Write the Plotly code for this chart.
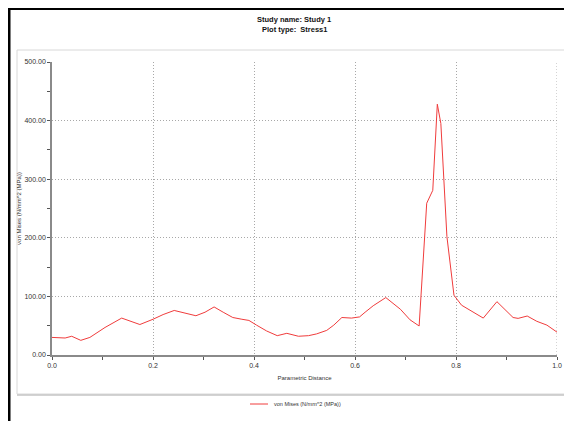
import plotly.graph_objects as go

# Parametric distance along the path
dist = [0, 0.0125, 0.026, 0.039, 0.057, 0.075, 0.105, 0.138, 0.174, 0.2,
        0.22, 0.242, 0.263, 0.285, 0.303, 0.321, 0.339, 0.358, 0.376, 0.39,
        0.405, 0.425, 0.446, 0.465, 0.488, 0.508, 0.524, 0.544, 0.558, 0.574,
        0.593, 0.609, 0.62, 0.636, 0.661, 0.676, 0.69, 0.709, 0.727, 0.742,
        0.754, 0.763, 0.770, 0.782, 0.796, 0.811, 0.854, 0.881, 0.913, 0.923,
        0.941, 0.96, 0.98, 1.0]
# von Mises stress (MPa)
von_mises = [30, 29, 29, 32, 25, 30, 47, 63, 52, 61,
             69, 76, 72, 67, 73, 82, 73, 64, 61, 59,
             51, 41, 33, 37, 32, 33, 36, 42, 51, 64,
             63, 65, 73, 84, 98, 87, 78, 60, 49.5, 259,
             281, 428, 395, 202, 102, 85, 63, 91, 64, 62.5,
             66.5, 57.5, 51, 39]

x_ticks = [0.0, 0.2, 0.4, 0.6, 0.8, 1.0]
x_tick_labels = ["0.0", "0.2", "0.4", "0.6", "0.8", "1.0"]
y_ticks = [0, 100, 200, 300, 400, 500]
y_tick_labels = ["0.00", "100.00", "200.00", "300.00", "400.00", "500.00"]
series_name = "von Mises (N/mm^2 (MPa))"

OFF = 8  # page body margin offset
W, H = 572 - OFF, 421 - OFF
# plot area in page pixels
L, R, T, B = 52, 557, 62, 355


def px(p):
    return (p - L) / (R - L)


def py(p):
    return (B - p) / (B - T)


FONT = "Liberation Sans, Arial, sans-serif"
GRID = "#a8a8a8"
RED = "#f03c3c"

fig = go.Figure()
fig.add_trace(go.Scatter(
    x=dist, y=von_mises, mode="lines",
    line=dict(color=RED, width=1),
    name=series_name, showlegend=False,
))

fig.update_layout(
    width=W, height=H, autosize=False,
    margin=dict(l=L - OFF, r=W - (R - OFF), t=T - OFF, b=H - (B - OFF), autoexpand=False),
    paper_bgcolor="white", plot_bgcolor="white",
    font=dict(family=FONT, size=7, color="#333"),
    showlegend=False,
    xaxis=dict(range=[0, 1], tickvals=x_ticks, ticktext=x_tick_labels,
               automargin=False,
               showgrid=True, gridcolor=GRID, griddash="1px,2px", gridwidth=1,
               showline=True, linecolor="#8a8a8a", linewidth=1.5,
               ticks="outside", ticklen=3, tickcolor="#555",
               minor=dict(tickvals=[0.1, 0.3, 0.5, 0.7, 0.9], ticks="outside",
                          ticklen=3, tickcolor="#555", showgrid=False),
               zeroline=False, tickfont=dict(size=7, color="#333"),
               title=dict(text="Parametric Distance", font=dict(size=6, color="#333"),
                          standoff=8)),
    yaxis=dict(range=[0, 500], tickvals=y_ticks, ticktext=y_tick_labels,
               automargin=False,
               showgrid=True, gridcolor=GRID, griddash="1px,2px", gridwidth=1,
               showline=True, linecolor="#8a8a8a", linewidth=1.5,
               ticks="outside", ticklen=3, tickcolor="#555",
               minor=dict(tickvals=[50, 150, 250, 350, 450], ticks="outside",
                          ticklen=3, tickcolor="#555", showgrid=False),
               zeroline=False, tickfont=dict(size=7, color="#333"),
               title=dict(text=series_name, font=dict(size=6, color="#333"),
                          standoff=2)),
    shapes=[
        # inner panel
        dict(type="rect", xref="paper", yref="paper",
             x0=px(17), x1=px(566), y0=py(394), y1=py(50),
             line=dict(color="#d8d8d8", width=1), layer="below"),
        dict(type="line", xref="paper", yref="paper",
             x0=px(17), x1=px(566), y0=py(395), y1=py(395),
             line=dict(color="#c4c4c4", width=1.5)),
        # right grid line at 1.0
        dict(type="line", xref="x", yref="y", x0=1, x1=1, y0=0, y1=500,
             line=dict(color=GRID, width=1, dash="1px,2px")),
        # outer black frame
        dict(type="line", xref="paper", yref="paper",
             x0=px(8), x1=px(580), y0=py(8.5), y1=py(8.5),
             line=dict(color="black", width=3)),
        dict(type="line", xref="paper", yref="paper",
             x0=px(9), x1=px(9), y0=py(7), y1=py(430),
             line=dict(color="black", width=3)),
        # legend sample line
        dict(type="line", xref="paper", yref="paper",
             x0=px(250), x1=px(268), y0=py(404), y1=py(404),
             line=dict(color=RED, width=1)),
    ],
    annotations=[
        dict(text="<b>Study name: Study 1</b>", xref="paper", yref="paper",
             x=px(294), y=py(19.5), showarrow=False, xanchor="center", yanchor="middle",
             font=dict(size=7.5, color="#111")),
        dict(text="<b>Plot type:  Stress1</b>", xref="paper", yref="paper",
             x=px(294), y=py(29.5), showarrow=False, xanchor="center", yanchor="middle",
             font=dict(size=7.5, color="#111")),
        # legend text
        dict(text=series_name, xref="paper", yref="paper",
             x=px(272), y=py(404), showarrow=False, xanchor="left", yanchor="middle",
             font=dict(size=5.5, color="#333")),
    ],
)

fig.write_html("out.html")
